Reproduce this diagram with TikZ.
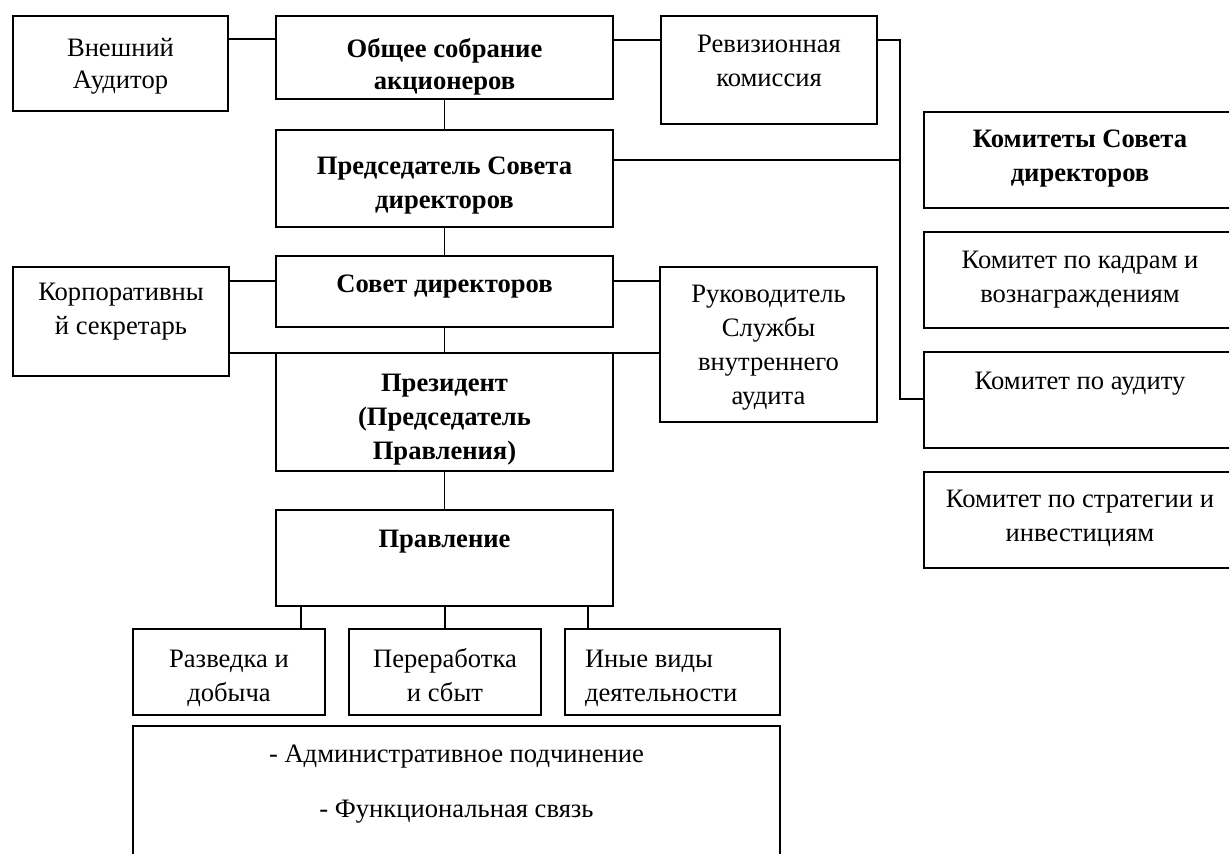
\documentclass[tikz,border=0pt]{standalone}
\usepackage{fontspec}
\setmainfont{Liberation Serif}
\usetikzlibrary{calc}

\newlength\unitpx
\setlength\unitpx{0.5pt}
% width, height, first baseline, text (all in px)
\newcommand{\boxtxt}[4]{\parbox[c][#2\unitpx][t]{#1\unitpx}{\centering\rule{0pt}{#3\unitpx}#4}}

\begin{document}
\begin{tikzpicture}[x=0.5pt, y=-0.5pt,
  blk/.style={draw, line width=0.9pt, inner sep=0pt, outer sep=0pt, anchor=north west,
    font=\fontsize{13.3}{17}\selectfont},
  lnk/.style={line width=0.9pt}]
  \useasboundingbox (0,0) rectangle (1229,853);

  \node[blk] (aud) at (13,16) {\boxtxt{215}{95}{40}{Внешний\\[-1pt]Аудитор}};
  \node[blk] (gms) at (276,16) {\boxtxt{337}{83}{41}{\bfseries Общее собрание\\[-1pt]акционеров}};
  \node[blk] (rev) at (661,16) {\boxtxt{216}{108}{36}{Ревизионная\\комиссия}};
  \node[blk] (chair) at (276,130) {\boxtxt{337}{97}{44}{\bfseries Председатель Совета\\директоров}};
  \node[blk] (board) at (276,256) {\boxtxt{337}{71}{36}{\bfseries Совет директоров}};
  \node[blk] (sec) at (13,267) {\boxtxt{216}{109}{33}{Корпоративны\\й секретарь}};
  \node[blk] (ia) at (660,267) {\boxtxt{217}{155}{35}{Руководитель\\Службы\\внутреннего\\аудита}};
  \node[blk] (pres) at (276,353) {\boxtxt{337}{118}{38}{\bfseries Президент\\(Председатель\\Правления)}};
  \node[blk] (mb) at (276,510) {\boxtxt{337}{96}{37}{\bfseries Правление}};

  % committees
  \node[blk] (com) at (924,112) {\boxtxt{312}{96}{35}{\bfseries Комитеты Совета\\директоров}};
  \node[blk] (hr) at (924,232) {\boxtxt{312}{96}{36}{Комитет по кадрам и\\вознаграждениям}};
  \node[blk] (audc) at (924,352) {\boxtxt{312}{96}{37}{Комитет по аудиту}};
  \node[blk] (strat) at (924,472) {\boxtxt{312}{96}{35}{Комитет по стратегии и\\инвестициям}};

  % business units
  \node[blk] (d1) at (133,629) {\boxtxt{192}{86}{38}{Разведка и\\добыча}};
  \node[blk] (d2) at (349,629) {\boxtxt{192}{86}{38}{Переработка\\и сбыт}};
  \node[blk] (d3) at (565,629) {\boxtxt{215}{86}{38}{\raggedright\leftskip=20\unitpx Иные виды\\деятельности}};

  \node[blk] (leg) at (133,726) {\boxtxt{647}{160}{36}{- Административное подчинение\\[10.5pt]- Функциональная связь}};

  \draw[lnk] ($(aud.north east)+(0,23)$) coordinate (a1) -- (a1 -| gms.west);
  \draw[lnk] ($(gms.north east)+(0,24)$) coordinate (a2) -- (a2 -| rev.west);
  \draw[lnk] (gms.south) -- (chair.north);
  \draw[lnk] (chair.south) -- (board.north);
  \draw[lnk] (board.south) -- (pres.north);
  \draw[lnk] (pres.south) -- (mb.north);

  \coordinate (bus) at ($(audc.north west)+(-24,47)$);
  \draw[lnk] ($(rev.north east)+(0,24)$) -| (bus) -- (bus -| audc.west);
  \draw[lnk] ($(chair.north east)+(0,30)$) coordinate (c1) -- (c1 -| bus);

  \draw[lnk] ($(sec.north east)+(0,14)$) coordinate (s1) -- (s1 -| board.west);
  \draw[lnk] ($(ia.north west)+(0,14)$) coordinate (i1) -- (i1 -| board.east);
  \draw[lnk] (pres.north west) -- (pres.north west -| sec.east);
  \draw[lnk] (pres.north east) -- (pres.north east -| ia.west);

  \draw[lnk] ($(d1.north east)+(-24,0)$) coordinate (t1) -- (t1 |- mb.south);
  \draw[lnk] (d2.north) -- (d2.north |- mb.south);
  \draw[lnk] ($(d3.north west)+(23,0)$) coordinate (t3) -- (t3 |- mb.south);
\end{tikzpicture}
\end{document}
